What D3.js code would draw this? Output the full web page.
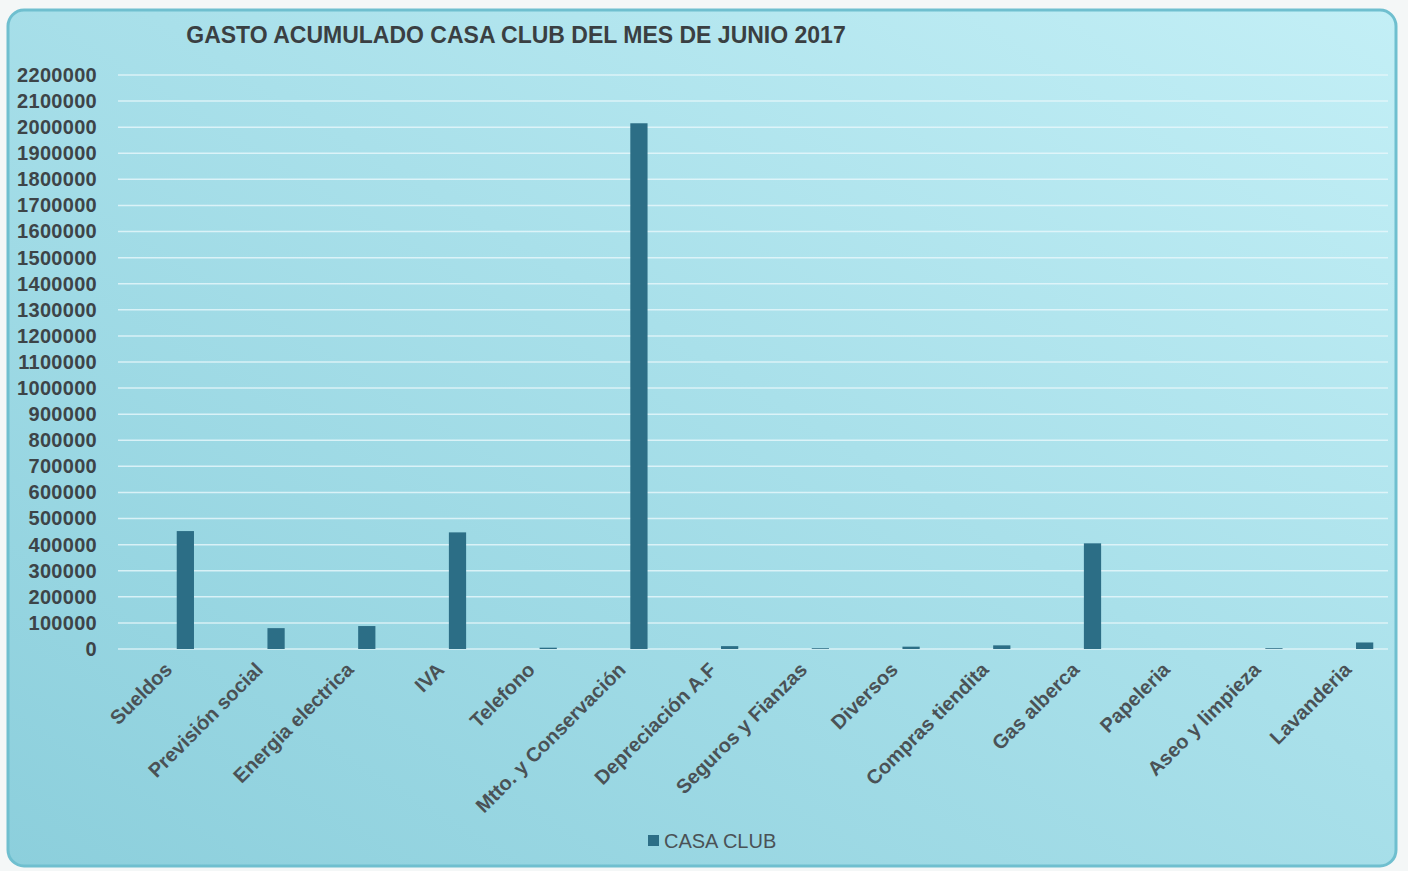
<!DOCTYPE html>
<html>
<head>
<meta charset="utf-8">
<script src="https://cdn.jsdelivr.net/npm/d3@7"></script>
<style>
  html, body { margin: 0; padding: 0; background: #f4f7f7; }
  svg { display: block; }
</style>
</head>
<body>
<svg id="chart" width="1408" height="871"></svg>
<script>
const title = "GASTO ACUMULADO CASA CLUB DEL MES DE JUNIO 2017";
const seriesName = "CASA CLUB";
const categories = ["Sueldos", "Previsión social", "Energia electrica", "IVA", "Telefono",
  "Mtto. y Conservación", "Depreciación A.F", "Seguros y Fianzas", "Diversos",
  "Compras tiendita", "Gas alberca", "Papeleria", "Aseo y limpieza", "Lavanderia"];
const values = [452000, 80000, 88000, 447000, 5000, 2015000, 11000, 3000, 9000,
  14000, 405000, 0, 3000, 25000];
const yTicks = d3.range(0, 2200001, 100000);

const svg = d3.select("#chart");
const FONT = "Liberation Sans, Arial, sans-serif";

const defs = svg.append("defs");
const grad = defs.append("linearGradient").attr("id", "bg")
  .attr("x1", "0%").attr("y1", "100%").attr("x2", "100%").attr("y2", "0%");
grad.append("stop").attr("offset", "0%").attr("stop-color", "#8ccfdc");
grad.append("stop").attr("offset", "55%").attr("stop-color", "#a9e0ea");
grad.append("stop").attr("offset", "100%").attr("stop-color", "#c3eff6");

svg.append("rect").attr("x", 8).attr("y", 10).attr("width", 1388).attr("height", 856)
  .attr("rx", 16).attr("fill", "url(#bg)").attr("stroke", "#6fbfcf").attr("stroke-width", 3);

const margin = { left: 140, right: 1410, top: 75, bottom: 649 };

const x = d3.scaleBand().domain(categories).range([margin.left, margin.right]).paddingInner(0.81).paddingOuter(0.405);
const y = d3.scaleLinear().domain([0, 2200000]).range([margin.bottom, margin.top]);

// gridlines
svg.append("g").selectAll("line").data(yTicks).join("line")
  .attr("x1", 118).attr("x2", 1388)
  .attr("y1", d => y(d)).attr("y2", d => y(d))
  .attr("stroke", "#e8f8fb").attr("stroke-opacity", 0.8).attr("stroke-width", 1.5);

// y axis labels
const yAxis = d3.axisLeft(y).tickValues(yTicks).tickFormat(d3.format("d")).tickSize(0).tickPadding(0);
const gy = svg.append("g").attr("transform", "translate(97,0)").call(yAxis);
gy.select(".domain").remove();
gy.selectAll("text").attr("font-family", FONT)
  .attr("font-size", 20).attr("font-weight", "bold").attr("fill", "#3d4448")
  .attr("letter-spacing", 0.3);

// bars
svg.append("g").selectAll("rect").data(categories).join("rect")
  .attr("x", (d) => x(d))
  .attr("width", x.bandwidth())
  .attr("y", (d, i) => y(values[i]))
  .attr("height", (d, i) => y(0) - y(values[i]))
  .attr("fill", "#2c6e86");

// x axis labels
const xAxis = d3.axisBottom(x).tickSize(0).tickPadding(0);
const gx = svg.append("g").attr("transform", `translate(0,${y(0)})`).call(xAxis);
gx.select(".domain").remove();
gx.selectAll("text")
  .attr("font-family", FONT)
  .attr("font-size", 20).attr("font-weight", "bold").attr("fill", "#4a5256")
  .attr("text-anchor", "end")
  .attr("dy", null).attr("y", 0)
  .attr("transform", "translate(-12,22) rotate(-45)");

// title
svg.append("text").attr("x", 516).attr("y", 43).attr("text-anchor", "middle")
  .attr("font-family", FONT)
  .attr("font-size", 23).attr("font-weight", "bold").attr("fill", "#3a3f42")
  .text(title);

// legend
const lg = svg.append("g").attr("transform", "translate(648,835)");
lg.append("rect").attr("x", 0).attr("y", 0).attr("width", 11).attr("height", 11).attr("fill", "#2c6e86");
lg.append("text").attr("x", 16).attr("y", 13)
  .attr("font-family", FONT)
  .attr("font-size", 20).attr("fill", "#4a5256").text(seriesName);
</script>
</body>
</html>
